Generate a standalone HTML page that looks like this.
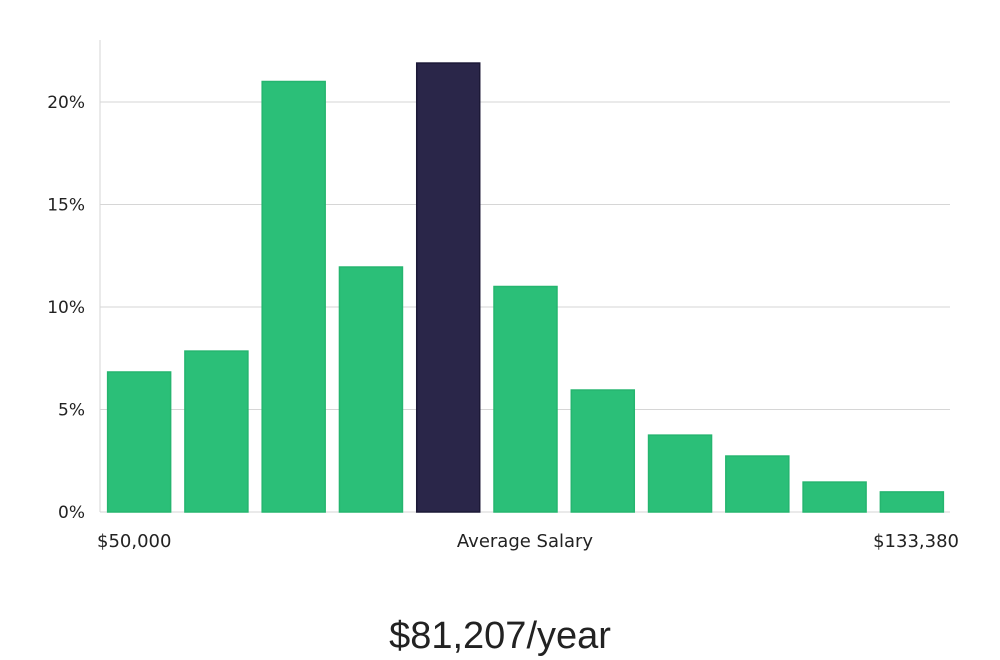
<!DOCTYPE html>
<html><head><meta charset="utf-8"><style>
html,body{margin:0;padding:0;background:#fff;}
svg{display:block;}
</style></head><body>
<svg id="chart" width="1000" height="660" xmlns="http://www.w3.org/2000/svg" font-family="'DejaVu Sans', sans-serif"></svg>
<script>
const categories=["b1","b2","b3","b4","b5","b6","b7","b8","b9","b10","b11"];
const values=[6.83,7.85,21.0,11.95,21.9,11.0,5.95,3.75,2.73,1.46,0.98];
const highlightIndex=4;
const yTicks=[0,5,10,15,20];
const yTickLabels=["0%","5%","10%","15%","20%"];
const xLabels=["$50,000","Average Salary","$133,380"];
const NS="http://www.w3.org/2000/svg";
const svg=document.getElementById('chart');
const x0=100,x1=950,yBase=512,pxPer=20.5;
const y=v=>yBase-v*pxPer;
const slot=(x1-x0)/categories.length;
function mk(t,a){const e=document.createElementNS(NS,t);for(const k in a)e.setAttribute(k,a[k]);svg.appendChild(e);return e;}
yTicks.forEach((t,i)=>{
  if(t>0){const g=mk('line',{x1:x0,x2:x1,y1:y(t),y2:y(t),stroke:'#d6d6d6','stroke-width':1});
  
  }
  const l=mk('text',{x:85,y:y(t)+6,'text-anchor':'end','font-size':17,fill:'#222'});
  l.textContent=yTickLabels[i];
  
  
});
const ax=mk('line',{x1:x0,x2:x0,y1:40,y2:yBase,stroke:'#d6d6d6','stroke-width':1});


const bx=mk('line',{x1:x0,x2:x1,y1:yBase,y2:yBase,stroke:'#d6d6d6','stroke-width':1});


values.forEach((v,i)=>{
  const bw=63;
  const bxp=x0+slot*i+(slot-bw)/2+0.5;
  const hl=i===highlightIndex;
  const r=mk('rect',{x:bxp,y:y(v),width:bw,height:yBase-y(v),fill:hl?'#2a2649':'#2bbf78',stroke:hl?'#1b1836':'#25b56f','stroke-width':1.5});
  
  
});
const xl=[[97,'start'],[525,'middle'],[959,'end']];
xLabels.forEach((s,i)=>{
  const t=mk('text',{x:xl[i][0],y:547,'text-anchor':xl[i][1],'font-size':18,fill:'#222'});
  t.textContent=s;
  
  
});
const ti=mk('text',{x:500,y:648,'text-anchor':'middle','font-size':38,fill:'#222','font-family':"'Liberation Sans Narrow','Liberation Sans',sans-serif",'font-weight':300});
ti.textContent="$81,207/year";


</script>
</body></html>
